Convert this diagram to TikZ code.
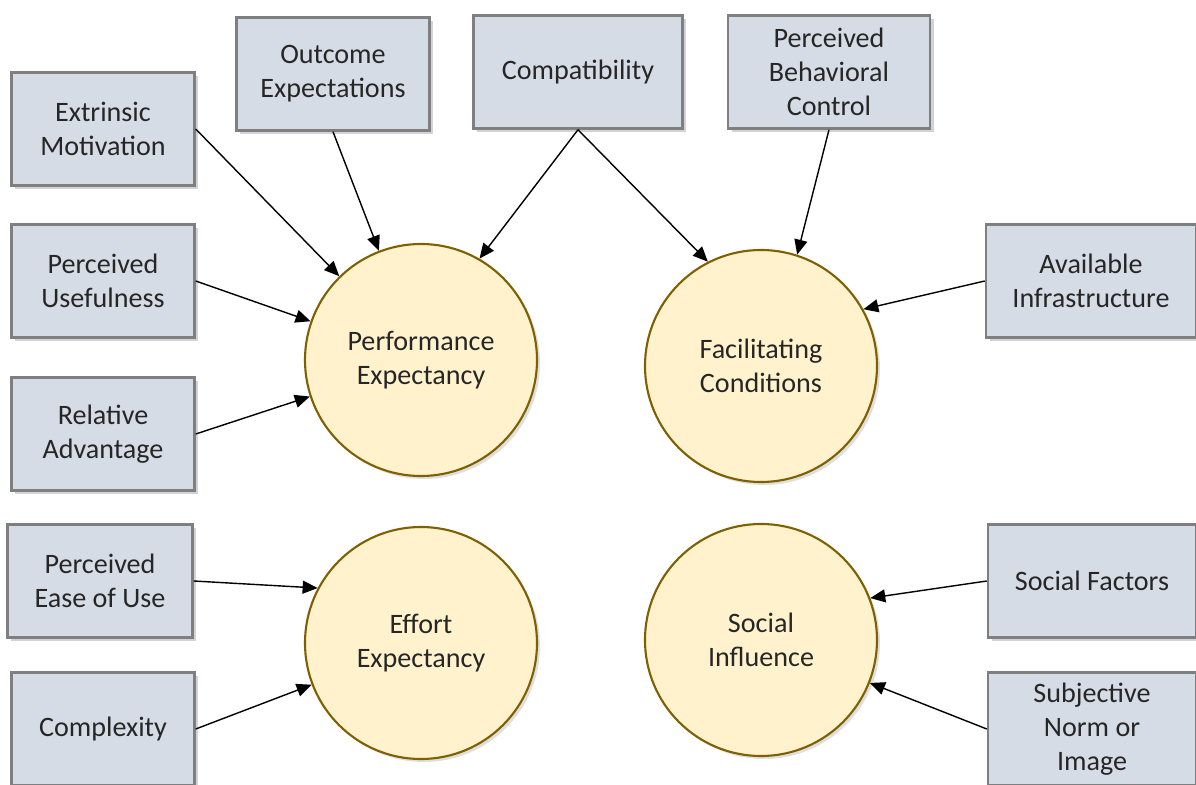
\documentclass[tikz,border=0pt]{standalone}
\usepackage{fontspec}
\setmainfont{Carlito}
\usetikzlibrary{arrows.meta,shadows}

\definecolor{boxfill}{HTML}{D6DCE5}
\definecolor{boxline}{HTML}{7F7F7F}
\definecolor{circfill}{HTML}{FFF2CC}
\definecolor{circline}{HTML}{7F6000}
\definecolor{txt}{HTML}{262626}

\tikzset{
  factor/.style={draw=boxline, line width=1.4pt, fill=boxfill,
    minimum width=36.6mm, minimum height=22.6mm, align=center,
    text=txt, font=\fontsize{16}{19.5}\selectfont,
    drop shadow={opacity=0.35, shadow xshift=0.7mm, shadow yshift=-0.7mm}},
  construct/.style={circle, draw=circline, line width=1.2pt, fill=circfill,
    minimum size=46.4mm, align=center, text=txt,
    font=\fontsize{16}{19.5}\selectfont,
    drop shadow={opacity=0.25, shadow xshift=0.6mm, shadow yshift=-0.6mm}},
  link/.style={-{Triangle[length=3mm,width=2.6mm]}, line width=0.8pt}
}

\begin{document}
\begin{tikzpicture}[x=0.2mm,y=-0.2mm]
\useasboundingbox (0,0) rectangle (1196,785);

\node[construct] (perf) at (421,360) {Performance\\Expectancy};
\node[construct] (facil) at (761,366) {Facilitating\\Conditions};
\node[construct] (effort) at (421,643) {Effort\\Expectancy};
\node[construct] (social) at (761,640) {Social\\Influence};

\node[factor] (extr) at (103,129) {Extrinsic\\Motivation};
\node[factor, minimum width=38.6mm] (outc) at (333,74) {Outcome\\Expectations};
\node[factor, minimum width=41.8mm] (compat) at (578,72) {Compatibility};
\node[factor, minimum width=40.4mm] (pbc) at (829,72) {Perceived\\Behavioral\\Control};
\node[factor] (useful) at (103,281) {Perceived\\Usefulness};
\node[factor] (reladv) at (103,434) {Relative\\Advantage};
\node[factor, minimum width=42mm] (infra) at (1091,281) {Available\\Infrastructure};
\node[factor, minimum width=37mm] (ease) at (100,581) {Perceived\\Ease of Use};
\node[factor] (complex) at (103,729) {Complexity};
\node[factor, minimum width=41.6mm] (sfact) at (1092,581) {Social Factors};
\node[factor, minimum width=41.6mm] (subj) at (1092,729) {Subjective\\Norm or\\Image};

\draw[link] (extr.east) -- (perf);
\draw[link] (outc.south) -- (perf);
\draw[link] (compat.south) -- (perf.60);
\draw[link] (compat.south) -- (facil.117);
\draw[link] (pbc.south) -- (facil.72);
\draw[link] (useful.east) -- (perf);
\draw[link] (reladv.east) -- (perf);
\draw[link] (infra.west) -- (facil.29);
\draw[link] (ease.east) -- (effort.152);
\draw[link] (complex.east) -- (effort);
\draw[link] (sfact.west) -- (social.21);
\draw[link] (subj.west) -- (social);
\end{tikzpicture}
\end{document}
